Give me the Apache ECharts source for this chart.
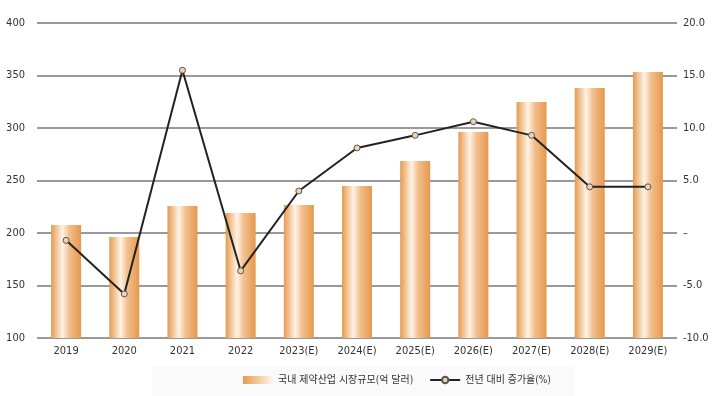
<!DOCTYPE html>
<html>
<head>
<meta charset="utf-8">
<script src="https://cdn.jsdelivr.net/npm/echarts@6/dist/echarts.min.js"></script>
<style>
  html, body { margin: 0; padding: 0; background: #fff; }
  #main { width: 718px; height: 396px; }
</style>
</head>
<body>
<div id="main"></div>
<script>
// 데이터
var years = ['2019', '2020', '2021', '2022', '2023(E)', '2024(E)', '2025(E)', '2026(E)', '2027(E)', '2028(E)', '2029(E)'];
var marketSize = [207.6, 196.2, 225.7, 219, 226.7, 244.8, 268.6, 296.2, 324.8, 338, 353.3];
var growthRate = [-0.7, -5.8, 15.5, -3.6, 4.0, 8.1, 9.3, 10.6, 9.3, 4.4, 4.4];
var leftTicks = [100, 150, 200, 250, 300, 350, 400];
var rightTicks = ['-10.0', '-5.0', '–', '5.0', '10.0', '15.0', '20.0'];

var font = '"DejaVu Sans Condensed", "Liberation Sans Narrow", "Noto Sans CJK KR", sans-serif';

var chart = echarts.init(document.getElementById('main'));

var barColor = new echarts.graphic.LinearGradient(0, 0, 1, 0, [
  { offset: 0, color: '#e59a4e' },
  { offset: 0.38, color: '#fff3e6' },
  { offset: 0.6, color: '#f2c08e' },
  { offset: 1, color: '#e6984c' }
]);

var legendBarColor = new echarts.graphic.LinearGradient(0, 0, 1, 0, [
  { offset: 0, color: '#e59a4e' },
  { offset: 1, color: '#fff6ee' }
]);

var option = {
  backgroundColor: '#ffffff',
  animation: false,
  graphic: [{
    type: 'rect',
    left: 152,
    top: 367,
    shape: { width: 423, height: 29 },
    style: { fill: '#fafafa' },
    z: -10
  }],
  grid: {
    left: 37,
    right: 41,
    top: 23,
    bottom: 58
  },
  legend: {
    bottom: 6,
    left: 238,
    itemGap: 16,
    itemWidth: 30,
    itemHeight: 8,
    textStyle: { fontFamily: font, fontSize: 10, color: '#333' },
    data: [
      { name: '국내 제약산업 시장규모(억 달러)', icon: 'rect', itemStyle: { color: legendBarColor } },
      { name: '전년 대비 증가율(%)' }
    ]
  },
  xAxis: {
    type: 'category',
    data: years,
    axisLine: { show: false },
    axisTick: { show: false },
    axisLabel: { fontFamily: font, fontSize: 11, color: '#333', margin: 8 }
  },
  yAxis: [{
    type: 'value',
    min: 100,
    max: 400,
    interval: 50,
    axisLine: { show: false },
    axisTick: { show: false },
    axisLabel: {
      fontFamily: font, fontSize: 11, color: '#333', margin: 12,
      formatter: function (v) { return leftTicks.indexOf(v) >= 0 ? String(v) : ''; }
    },
    splitLine: { lineStyle: { color: '#999', width: 2 } }
  }, {
    type: 'value',
    min: -10,
    max: 20,
    interval: 5,
    axisLine: { show: false },
    axisTick: { show: false },
    axisLabel: {
      fontFamily: font, fontSize: 11, color: '#333', margin: 6,
      formatter: function (v) { return rightTicks[Math.round((v + 10) / 5)]; }
    },
    splitLine: { show: false }
  }],
  series: [{
    name: '국내 제약산업 시장규모(억 달러)',
    type: 'bar',
    barWidth: 30,
    data: marketSize,
    itemStyle: { color: barColor }
  }, {
    name: '전년 대비 증가율(%)',
    type: 'line',
    yAxisIndex: 1,
    data: growthRate,
    symbol: 'circle',
    symbolSize: 6,
    lineStyle: { color: '#222', width: 2 },
    itemStyle: { color: '#f0d2b0', borderColor: '#555', borderWidth: 1 },
    z: 5
  }]
};

chart.setOption(option);
</script>
</body>
</html>
